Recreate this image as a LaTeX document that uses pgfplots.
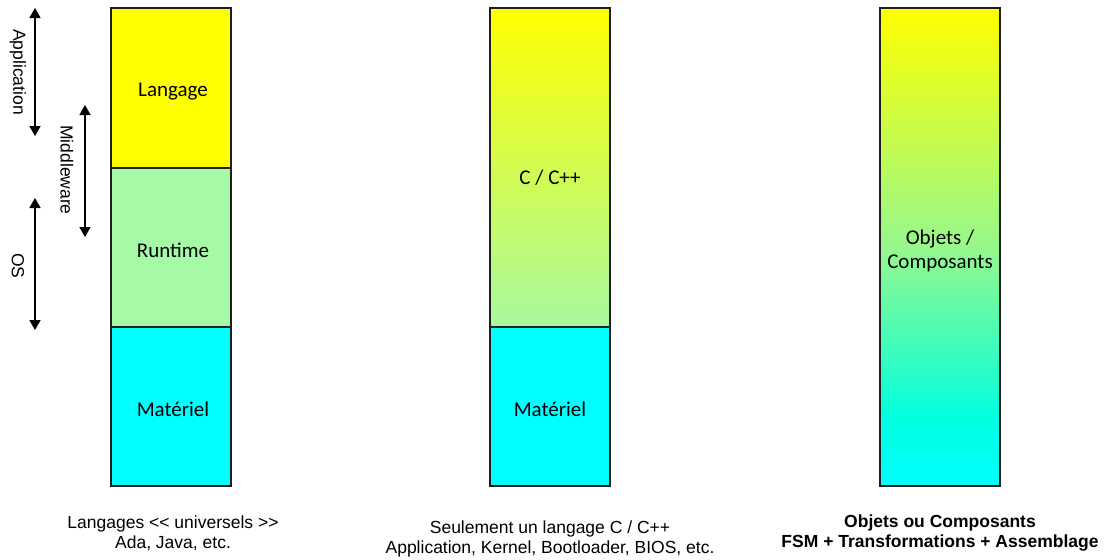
\documentclass[border=0pt]{standalone}
\usepackage{pgfplots}
\pgfplotsset{compat=1.18}
\usetikzlibrary{arrows.meta}
\usepackage{fontspec}
\setmainfont{Liberation Sans}
\newfontfamily\calibri{Carlito}
\definecolor{cyanx}{RGB}{0,255,255}
\definecolor{yel}{RGB}{255,255,0}
\definecolor{runt}{RGB}{166,249,166}
\definecolor{ctop}{RGB}{255,255,0}
\definecolor{cbot}{RGB}{168,248,160}
\definecolor{gmid}{RGB}{150,248,140}
\definecolor{gcy}{RGB}{0,255,224}
\definecolor{edge}{RGB}{30,30,30}
\begin{document}
\begin{tikzpicture}
\begin{axis}[
  width=1105pt, height=557pt, scale only axis,
  xmin=0, xmax=1105, ymin=0, ymax=557, y dir=reverse,
  hide axis, clip=false]
\path (axis cs:0,0) rectangle (axis cs:1105,557);
% Column 1
\addplot[fill=yel, draw=edge, line width=1.3pt] coordinates {(111,8) (231,8) (231,168) (111,168)} -- cycle;
\addplot[fill=runt, draw=edge, line width=1.3pt] coordinates {(111,168) (231,168) (231,327) (111,327)} -- cycle;
\addplot[fill=cyanx, draw=edge, line width=1.3pt] coordinates {(111,327) (231,327) (231,486) (111,486)} -- cycle;
% Column 2
\addplot[top color=ctop, bottom color=cbot, draw=edge, line width=1.3pt] coordinates {(490,8) (610,8) (610,327) (490,327)} -- cycle;
\addplot[fill=cyanx, draw=edge, line width=1.3pt] coordinates {(490,327) (610,327) (610,486) (490,486)} -- cycle;
% Column 3
\addplot[top color=yel, bottom color=gmid, draw=none] coordinates {(880,8) (1000,8) (1000,247.5) (880,247.5)} -- cycle;
\addplot[top color=gmid, bottom color=gcy, draw=none] coordinates {(880,247) (1000,247) (1000,420.5) (880,420.5)} -- cycle;
\addplot[top color=gcy, bottom color=cyanx, draw=none] coordinates {(880,420) (1000,420) (1000,486) (880,486)} -- cycle;
\addplot[draw=edge, line width=1.3pt] coordinates {(880,8) (1000,8) (1000,486) (880,486)} -- cycle;
% Arrows
\addplot[black, line width=1.4pt, {Triangle[length=10pt,width=11pt]}-{Triangle[length=10pt,width=11pt]}] coordinates {(35,8) (35,136)};
\addplot[black, line width=1.4pt, {Triangle[length=10pt,width=11pt]}-{Triangle[length=10pt,width=11pt]}] coordinates {(85,105) (85,237)};
\addplot[black, line width=1.4pt, {Triangle[length=10pt,width=11pt]}-{Triangle[length=10pt,width=11pt]}] coordinates {(35,198) (35,330)};
% Side labels
\node[rotate=-90, font=\fontsize{17.5}{20}\selectfont] at (axis cs:18,72) {Application};
\node[rotate=-90, font=\fontsize{17.5}{20}\selectfont] at (axis cs:67,170) {Middleware};
\node[rotate=-90, font=\fontsize{17.5}{20}\selectfont] at (axis cs:18,266) {OS};
% Box labels
\node[font=\calibri\fontsize{21}{24}\selectfont] at (axis cs:173,92) {Langage};
\node[font=\calibri\fontsize{21}{24}\selectfont] at (axis cs:173,250) {Runtime};
\node[font=\calibri\fontsize{21}{24}\selectfont] at (axis cs:173,409) {Matériel};
\node[font=\calibri\fontsize{21}{24}\selectfont] at (axis cs:550,178) {C / C++};
\node[font=\calibri\fontsize{21}{24}\selectfont] at (axis cs:550,409) {Matériel};
\node[font=\calibri\fontsize{21}{24}\selectfont, align=center] at (axis cs:940,251) {Objets /\\Composants};
% Bottom labels
\node[font=\fontsize{17.5}{20}\selectfont, align=center] at (axis cs:173,533) {Langages {<}{<} universels {>}{>}\\Ada, Java, etc.};
\node[font=\fontsize{17.5}{20}\selectfont, align=center] at (axis cs:550,538.5) {Seulement un langage C / C++\\Application, Kernel, Bootloader, BIOS, etc.};
\node[font=\bfseries\fontsize{17.5}{20}\selectfont, align=center] at (axis cs:940,533) {Objets ou Composants\\FSM + Transformations + Assemblage};
\end{axis}
\end{tikzpicture}
\end{document}
